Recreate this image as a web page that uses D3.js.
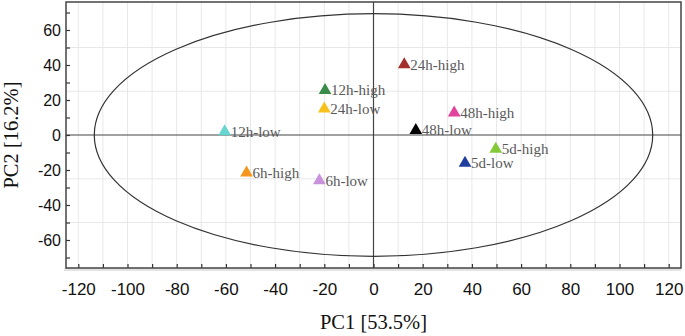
<!DOCTYPE html>
<html>
<head>
<meta charset="utf-8">
<script src="https://cdn.jsdelivr.net/npm/d3@7"></script>
<style>
  body { margin: 0; background: #fff; }
</style>
</head>
<body>
<svg id="drawing_region"></svg>
<script>
// samples
const labels = ['24h-high', '12h-high', '24h-low', '48h-high', '48h-low', '5d-high', '5d-low', '12h-low', '6h-high', '6h-low'];
const pc1 = [12.5, -19.7, -20, 32.8, 17.2, 49.7, 37.2, -60.5, -51.6, -22];
const pc2 = [40.2, 25.5, 15, 12.6, 2.6, -8, -16, 1.9, -21.6, -26];
const colors = ['#a3302b', '#3a8c4b', '#f7c21c', '#e2439c', '#000000', '#84c93a', '#1f3e9e', '#66d4cf', '#f5961f', '#c992dc'];

const xTicks = d3.range(-120, 121, 10);
const yTicks = d3.range(-70, 71, 10);
const ellipseR = [113.5, 69.3];   // Hotelling T2 ellipse radii (PC1, PC2)

class ScorePlot {

    constructor( config ) {
        this.config = config;
        this.init();
    }

    init() {
        let self = this;
        self.svg = d3.select( self.config.parent )
            .attr('width', self.config.width)
            .attr('height', self.config.height);

        self.inner_width = self.config.width - self.config.margin.left - self.config.margin.right;
        self.inner_height = self.config.height - self.config.margin.top - self.config.margin.bottom;

        self.chart = self.svg.append('g')
            .attr('transform', `translate(${self.config.margin.left}, ${self.config.margin.top})`);

        self.xscale = d3.scaleLinear().domain([-125, 125]).range([0, self.inner_width]);
        self.yscale = d3.scaleLinear().domain([-76, 76]).range([self.inner_height, 0]);
    }

    render() {
        let self = this;
        const W = self.inner_width, H = self.inner_height;

        // grey strip under the frame
        self.chart.append('rect')
            .attr('x', -2).attr('y', H).attr('width', W + 2).attr('height', 3)
            .attr('fill', '#e4e4e4');

        // grid
        self.chart.append('g').selectAll('line')
            .data(xTicks)
            .join('line')
            .attr('x1', d => self.xscale(d)).attr('x2', d => self.xscale(d))
            .attr('y1', 0).attr('y2', H)
            .attr('stroke', '#e8e8e8');
        self.chart.append('g').selectAll('line')
            .data([-50, -25, 25, 50])
            .join('line')
            .attr('x1', 0).attr('x2', W)
            .attr('y1', d => self.yscale(d)).attr('y2', d => self.yscale(d))
            .attr('stroke', '#e8e8e8');

        // zero lines
        self.chart.append('line')
            .attr('x1', 0).attr('x2', W)
            .attr('y1', self.yscale(0)).attr('y2', self.yscale(0))
            .attr('stroke', '#444').attr('stroke-width', 1.2);
        self.chart.append('line')
            .attr('x1', self.xscale(0)).attr('x2', self.xscale(0))
            .attr('y1', 0).attr('y2', H)
            .attr('stroke', '#444').attr('stroke-width', 1.2);

        // ellipse
        self.chart.append('ellipse')
            .attr('cx', self.xscale(0)).attr('cy', self.yscale(0))
            .attr('rx', self.xscale(ellipseR[0]) - self.xscale(0))
            .attr('ry', self.yscale(0) - self.yscale(ellipseR[1]))
            .attr('fill', 'none')
            .attr('stroke', '#333').attr('stroke-width', 1.2);

        // axes (ticks pointing inward)
        const xaxis = d3.axisBottom(self.xscale)
            .tickValues(xTicks)
            .tickSizeInner(-4).tickSizeOuter(0)
            .tickPadding(15)
            .tickFormat(d => d % 20 === 0 ? d : '');
        const yaxis = d3.axisLeft(self.yscale)
            .tickValues(yTicks)
            .tickSizeInner(-4).tickSizeOuter(0)
            .tickPadding(5)
            .tickFormat(d => d % 20 === 0 ? d : '');

        const gx = self.chart.append('g')
            .attr('transform', `translate(0, ${H})`)
            .call(xaxis);
        const gy = self.chart.append('g').call(yaxis);

        [gx, gy].forEach(g => {
            g.select('.domain').remove();
            g.selectAll('.tick line').attr('stroke', '#333').attr('stroke-width', 1.2);
            g.selectAll('.tick text')
                .attr('font-family', '"Liberation Sans", Arial, sans-serif')
                .attr('font-size', 17)
                .attr('fill', '#111');
        });
        gy.selectAll('.tick text').attr('font-size', 16).attr('dy', '0.35em');

        // frame
        self.chart.append('rect')
            .attr('x', 0).attr('y', 0).attr('width', W).attr('height', H)
            .attr('fill', 'none')
            .attr('stroke', '#444').attr('stroke-width', 1.5);

        // points
        const data = labels.map((d, i) => ({label: d, x: pc1[i], y: pc2[i], c: colors[i]}));
        const pts = self.chart.append('g').selectAll('g')
            .data(data)
            .join('g')
            .attr('transform', d => `translate(${self.xscale(d.x)}, ${self.yscale(d.y)})`);
        pts.append('path')
            .attr('d', d3.symbol(d3.symbolTriangle, 70))
            .attr('fill', d => d.c);
        pts.append('text')
            .attr('x', 6)
            .attr('y', 5)
            .attr('font-family', '"Liberation Serif", "Times New Roman", serif')
            .attr('font-size', 15)
            .attr('fill', '#5a5a5a')
            .text(d => d.label);

        // axis titles
        self.svg.append('text')
            .attr('x', self.config.margin.left + self.xscale(0))
            .attr('y', 329)
            .attr('text-anchor', 'middle')
            .attr('font-family', '"Liberation Serif", "Times New Roman", serif')
            .attr('font-size', 20.5)
            .attr('fill', '#111')
            .text('PC1 [53.5%]');
        self.svg.append('text')
            .attr('transform', `translate(18, ${self.config.margin.top + self.yscale(0)}) rotate(-90)`)
            .attr('text-anchor', 'middle')
            .attr('font-family', '"Liberation Serif", "Times New Roman", serif')
            .attr('font-size', 20.5)
            .attr('fill', '#111')
            .text('PC2 [16.2%]');
    }
}

const config = {
    parent: '#drawing_region',
    width: 685,
    height: 336,
    margin: {top: 2, right: 4, bottom: 68, left: 66}
};

const plot = new ScorePlot(config);
plot.render();
</script>
</body>
</html>
